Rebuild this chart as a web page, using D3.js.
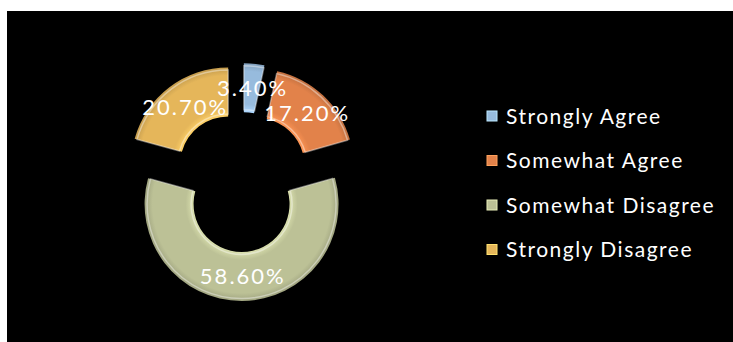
<!DOCTYPE html>
<html>
<head>
<meta charset="utf-8">
<script src="https://cdn.jsdelivr.net/npm/d3@7"></script>
<style>
  html, body { margin: 0; padding: 0; background: #fff; }
  svg { display: block; }
  text { font-family: Lato, "Open Sans", sans-serif; fill: #fff; }
</style>
</head>
<body>
<svg id="chart" width="733" height="342"></svg>
<script>
// Survey responses (percent of respondents)
const categories = ["Strongly Agree", "Somewhat Agree", "Somewhat Disagree", "Strongly Disagree"];
const values = [3.4, 17.2, 58.6, 20.7];
const labels = ["3.40%", "17.20%", "58.60%", "20.70%"];
const colors = ["#97bbdd", "#e2824a", "#bcc196", "#e5b65a"];

const svg = d3.select("#chart");
const W = 733, H = 342;

// dark plot panel
svg.append("rect").attr("x", 7).attr("y", 11).attr("width", W - 7).attr("height", H - 11).attr("fill", "#000");

const cx = 241.5, cy = 182;
const outerR = 97, innerR = 48, explode = 22;

const pie = d3.pie().sort(null).value(d => d).startAngle(0).endAngle(2 * Math.PI);
const arcs = pie(values);
const arc = d3.arc().innerRadius(innerR).outerRadius(outerR);
const insetArc = d3.arc().innerRadius(innerR + 2.5).outerRadius(outerR - 2.5);

const defs = svg.append("defs");
colors.forEach((c, i) => {
  const g = defs.append("radialGradient").attr("id", "g" + i)
    .attr("gradientUnits", "userSpaceOnUse").attr("cx", 0).attr("cy", 0).attr("r", outerR);
  const base = d3.color(c);
  g.append("stop").attr("offset", innerR / outerR).attr("stop-color", base.brighter(0.4));
  g.append("stop").attr("offset", (innerR + 8) / outerR).attr("stop-color", base);
  g.append("stop").attr("offset", (outerR - 8) / outerR).attr("stop-color", base);
  g.append("stop").attr("offset", 1).attr("stop-color", base.darker(0.45));
});

const root = svg.append("g").attr("transform", `translate(${cx},${cy})`);
const shift = d => {
  const a = (d.startAngle + d.endAngle) / 2;
  return [explode * Math.sin(a), -explode * Math.cos(a)];
};

const slices = root.selectAll("g.slice").data(arcs).join("g")
  .attr("class", "slice")
  .attr("transform", d => `translate(${shift(d)})`);

slices.append("path")
  .attr("d", arc)
  .attr("fill", (d, i) => `url(#g${i})`);

// bevel highlight
slices.append("path")
  .attr("d", insetArc)
  .attr("fill", "none")
  .attr("stroke", "#fff")
  .attr("stroke-opacity", 0.4)
  .attr("stroke-width", 1.5);

// value labels on top of every slice
root.append("g").selectAll("text").data(arcs).join("text")
  .attr("transform", d => {
    const [sx, sy] = shift(d);
    const [x, y] = arc.centroid(d);
    return `translate(${x + sx},${y + sy})`;
  })
  .attr("text-anchor", "middle")
  .attr("dy", "0.36em")
  .attr("dx", 1)
  .attr("font-size", 22)
  .attr("letter-spacing", 2)
  .text((d, i) => labels[i]);

// legend
const legend = svg.append("g").attr("transform", "translate(487,116)");
const rowH = 44.5;
const items = legend.selectAll("g").data(categories).join("g")
  .attr("transform", (d, i) => `translate(0,${i * rowH})`);
items.append("rect")
  .attr("x", 0).attr("y", -5).attr("width", 10).attr("height", 10)
  .attr("fill", (d, i) => colors[i])
  .attr("stroke", (d, i) => d3.color(colors[i]).brighter(0.6))
  .attr("stroke-width", 1);
items.append("text")
  .attr("x", 19).attr("dy", "0.36em")
  .attr("font-size", 21)
  .attr("letter-spacing", 1.5)
  .text(d => d);
</script>
</body>
</html>
